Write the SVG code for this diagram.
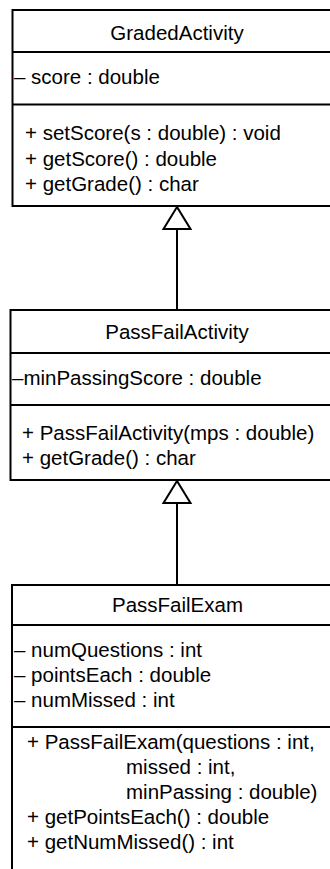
<svg xmlns="http://www.w3.org/2000/svg" width="330" height="869" viewBox="0 0 330 869">
<style>
.box{fill:#fff;stroke:#000;stroke-width:2}
.sep{stroke:#000;stroke-width:2}
text{font-family:"Liberation Sans",Arial,Helvetica,sans-serif;font-size:20.5px;fill:#000}
.title{text-anchor:middle}
.conn{stroke:#000;stroke-width:2;fill:none}
.tri{fill:#fff;stroke:#000;stroke-width:2;stroke-linejoin:miter}
</style>
<rect width="330" height="869" fill="#fff"/>
<g id="GradedActivity">
<rect class="box" x="12.5" y="10" width="340" height="196"/>
<line class="sep" x1="12.5" y1="52" x2="352.5" y2="52"/>
<line class="sep" x1="12.5" y1="104.5" x2="352.5" y2="104.5"/>
<text class="title" x="177" y="39.5">GradedActivity</text>
<text x="14" y="83.5">– score : double</text>
<text x="25" y="139.5">+ setScore(s : double) : void</text>
<text x="25" y="165.5">+ getScore() : double</text>
<text x="25" y="191">+ getGrade() : char</text>
</g>
<g id="PassFailActivity">
<rect class="box" x="10.5" y="310" width="340" height="170"/>
<line class="sep" x1="10.5" y1="353" x2="350.5" y2="353"/>
<line class="sep" x1="10.5" y1="405" x2="350.5" y2="405"/>
<text class="title" x="177" y="338.5">PassFailActivity</text>
<text x="12" y="385">–minPassingScore : double</text>
<text x="22" y="440">+ PassFailActivity(mps : double)</text>
<text x="22" y="465">+ getGrade() : char</text>
</g>
<g id="PassFailExam">
<rect class="box" x="12" y="585" width="340" height="300"/>
<line class="sep" x1="12" y1="625" x2="352" y2="625"/>
<line class="sep" x1="12" y1="727" x2="352" y2="727"/>
<text class="title" x="177.5" y="612">PassFailExam</text>
<text x="14" y="657">– numQuestions : int</text>
<text x="14" y="682">– pointsEach : double</text>
<text x="14" y="707">– numMissed : int</text>
<text x="27" y="748.5">+ PassFailExam(questions : int,</text>
<text x="126" y="773.5">missed : int,</text>
<text x="126" y="798.5">minPassing : double)</text>
<text x="27" y="823.5">+ getPointsEach() : double</text>
<text x="27" y="848.5">+ getNumMissed() : int</text>
</g>
<g id="connectors">
<line class="conn" x1="177" y1="229" x2="177" y2="310"/>
<polygon class="tri" points="177,207 163.5,229 190.5,229"/>
<line class="conn" x1="177" y1="503" x2="177" y2="585"/>
<polygon class="tri" points="177,481 163.5,503 190.5,503"/>
</g>
</svg>
